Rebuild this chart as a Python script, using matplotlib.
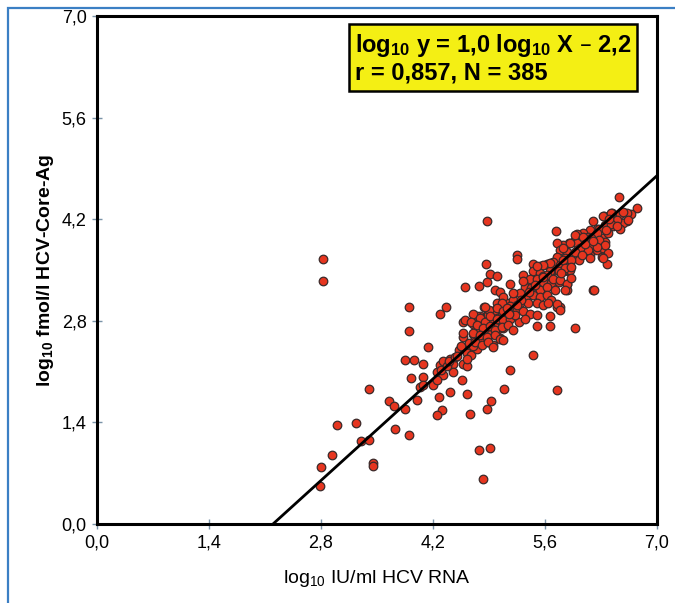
import numpy as np
import matplotlib
matplotlib.use('Agg')
from matplotlib import pyplot as plt
from matplotlib.patches import Rectangle

plt.rcParams['font.family'] = ['Liberation Sans Narrow', 'Liberation Sans', 'DejaVu Sans']
plt.rcParams['mathtext.default'] = 'regular'

# regression shown in the box
slope = 1.0
intercept = -2.2

# points: (log10 IU/ml HCV RNA, log10 fmol/l core Ag)
pts_low = [
    (2.82, 3.65), (2.82, 3.35), (3.90, 2.99), (3.90, 2.66), (3.85, 2.26), (3.96, 2.26),
    (4.08, 2.20), (4.14, 2.44), (3.93, 2.01), (4.07, 2.03), (4.04, 1.89), (4.08, 1.91),
    (4.00, 1.71), (3.40, 1.86), (3.65, 1.70), (3.71, 1.62), (3.85, 1.59), (3.73, 1.31),
    (3.90, 1.23), (3.00, 1.37), (3.24, 1.39), (3.30, 1.14), (3.40, 1.16), (2.94, 0.95),
    (2.80, 0.78), (2.79, 0.53), (3.45, 0.84), (3.45, 0.80),
]
pts_mid = [
    (4.29, 2.89), (4.36, 2.99), (4.25, 2.10), (4.33, 2.05), (4.29, 2.19), (4.20, 1.92),
    (4.25, 1.98), (4.28, 1.75), (4.31, 1.57), (4.25, 1.50), (4.41, 2.28), (4.33, 2.24),
    (4.45, 2.21), (4.45, 2.10), (4.41, 1.82), (4.30, 2.12), (4.38, 2.18), (4.40, 2.25),
    (4.48, 2.30), (4.52, 2.40), (4.58, 2.42), (4.66, 2.41), (4.62, 2.35), (4.68, 2.33),
    (4.75, 2.41), (4.58, 2.21), (4.62, 2.18), (4.56, 1.98), (4.63, 1.79), (4.66, 1.52),
    (4.58, 2.57), (4.70, 2.62), (4.71, 2.50), (4.58, 2.79), (4.70, 2.76), (4.79, 2.86),
    (4.78, 2.72), (4.60, 3.26), (4.78, 3.28), (4.78, 1.02), (4.83, 0.62), (4.75, 2.86),
    (4.55, 2.45), (4.65, 2.50), (4.72, 2.55), (4.76, 2.60), (4.70, 2.45), (4.62, 2.28),
    (4.50, 2.32), (4.74, 2.68), (4.80, 2.55), (4.60, 2.81), (4.58, 2.63),
]
pts_band = [
    (4.81, 2.54), (4.89, 2.51), (4.95, 2.47), (4.87, 2.58), (5.04, 2.56), (4.91, 2.86),
    (5.00, 2.88), (5.08, 2.86), (5.14, 2.90), (4.95, 2.79), (5.04, 2.77), (5.12, 2.77),
    (4.89, 2.70), (5.00, 2.67), (5.08, 2.70), (4.87, 2.88), (4.84, 2.99), (4.83, 2.83),
    (4.89, 2.88), (4.86, 3.58), (4.91, 3.44), (4.88, 3.34), (4.87, 4.17), (5.00, 3.42),
    (4.88, 1.58), (4.92, 1.70), (5.09, 1.86), (4.91, 1.05), (4.85, 2.65), (4.93, 2.62),
    (4.98, 2.72), (5.02, 2.82), (5.06, 2.92), (4.97, 2.95), (5.05, 3.00), (5.10, 2.95),
    (5.12, 3.05), (4.82, 2.75), (4.90, 2.95), (5.00, 3.05), (5.16, 2.12), (5.45, 2.33),
    (5.75, 1.84), (5.50, 2.73), (5.66, 2.73), (5.66, 2.87), (5.75, 2.99), (5.97, 2.70),
    (5.79, 2.99), (5.87, 3.22), (6.20, 3.22),
    (5.25, 3.71), (5.25, 3.65), (5.16, 3.31), (5.33, 3.43), (5.45, 3.58), (5.54, 3.55),
    (5.63, 3.58), (5.70, 3.55), (5.78, 3.60), (5.85, 3.65), (5.45, 3.49), (5.54, 3.46),
    (5.66, 3.45), (5.75, 3.50), (5.83, 3.52), (5.89, 3.48), (5.41, 3.37), (5.50, 3.38),
    (5.58, 3.34), (5.68, 3.32), (5.78, 3.33), (5.87, 3.31), (5.35, 3.27), (5.43, 3.25),
    (5.54, 3.23), (5.62, 3.27), (5.72, 3.22), (4.98, 3.23), (5.04, 3.19), (5.08, 3.13),
    (5.29, 3.18), (5.37, 3.13), (5.45, 3.15), (5.54, 3.13), (5.62, 3.15), (5.68, 3.09),
    (5.20, 3.09), (5.29, 3.04), (5.39, 3.04), (5.50, 3.04), (5.58, 3.02), (5.64, 3.04),
    (5.75, 3.03), (5.79, 2.95), (5.16, 3.00), (5.25, 2.95), (5.33, 2.93), (5.41, 2.90),
    (5.50, 2.88), (5.06, 3.04), (5.00, 2.97), (5.08, 2.93), (4.85, 2.99), (4.70, 2.90),
    (4.79, 2.84), (4.85, 2.78), (4.91, 2.86), (5.00, 2.83), (5.08, 2.81), (5.16, 2.83),
    (5.27, 2.79), (5.35, 2.83), (4.68, 2.79), (4.75, 2.74), (4.83, 2.70), (4.91, 2.73),
    (4.98, 2.68), (5.06, 2.71), (5.14, 2.74), (5.20, 2.67), (4.70, 2.63), (4.79, 2.60),
    (4.87, 2.58), (4.98, 2.60), (5.04, 2.55), (4.73, 2.51), (4.81, 2.46), (4.89, 2.51),
    (4.95, 2.44), (5.08, 2.53), (5.22, 2.88), (5.30, 3.08), (5.40, 3.20), (5.48, 3.30),
    (5.58, 3.42), (5.12, 2.98), (5.20, 3.18), (5.32, 3.35), (5.15, 2.90), (5.25, 3.02),
]
pts_high = [
    (6.53, 4.50), (6.75, 4.36), (6.68, 4.27), (6.63, 4.18), (6.57, 4.15), (6.44, 4.29),
    (6.54, 4.27), (6.34, 4.24), (6.42, 4.17), (6.50, 4.19), (6.20, 4.18), (6.35, 4.12),
    (6.45, 4.10), (6.54, 4.06), (6.25, 4.06), (6.16, 4.05), (6.08, 4.01), (6.00, 3.99),
    (5.98, 3.91), (6.06, 3.91), (6.14, 3.96), (6.23, 3.96), (6.31, 3.94), (6.39, 4.01),
    (6.35, 3.89), (6.27, 3.87), (6.16, 3.84), (6.08, 3.82), (6.00, 3.87), (5.90, 3.87),
    (5.83, 3.84), (5.75, 3.87), (5.74, 4.04), (6.00, 3.78), (6.08, 3.73), (6.16, 3.71),
    (6.25, 3.78), (6.33, 3.80), (6.39, 3.73), (5.79, 3.78), (5.87, 3.75), (5.95, 3.71),
    (5.85, 3.66), (5.93, 3.64), (6.02, 3.64), (5.75, 3.68), (5.70, 3.61), (6.31, 3.68),
    (6.37, 3.58), (5.62, 3.57), (5.70, 3.52), (5.79, 3.57), (5.66, 3.48), (5.77, 3.48),
    (5.85, 3.50), (5.91, 3.50), (5.62, 3.43), (5.58, 3.41), (5.70, 3.38), (5.79, 3.36),
    (5.87, 3.31), (5.85, 3.22), (6.21, 3.23),
    (6.62, 4.28), (6.64, 4.19), (6.33, 4.24), (6.43, 4.28), (6.43, 4.14), (6.50, 4.10),
    (6.28, 4.07), (6.36, 4.05), (6.25, 4.01), (5.97, 3.98), (6.08, 3.96), (6.18, 3.94),
    (6.28, 3.91), (6.35, 3.84), (6.25, 3.82), (6.14, 3.78), (6.04, 3.80), (5.91, 3.87),
    (5.83, 3.80), (5.98, 3.75), (6.06, 3.71), (6.16, 3.66), (6.32, 3.67), (5.92, 3.64),
    (5.83, 3.64), (5.66, 3.59), (5.58, 3.57), (5.50, 3.55), (5.85, 3.53), (5.92, 3.54),
    (5.80, 3.46), (5.93, 3.39), (6.10, 3.86), (6.20, 3.90), (6.40, 4.20), (6.58, 4.30),
]

pts = pts_low + pts_mid + pts_band + pts_high
x = np.array([p[0] for p in pts])
y = np.array([p[1] for p in pts])

ticks = [0.0, 1.4, 2.8, 4.2, 5.6, 7.0]
tick_labels = ['0,0', '1,4', '2,8', '4,2', '5,6', '7,0']

fig = plt.figure(figsize=(6.75, 6.03), dpi=100)
ax = fig.add_axes([97 / 675, 79 / 603, 560 / 675, 508 / 603])

ax.scatter(x, y, s=38, c='#e6351f', edgecolors='#3a2a2a', linewidths=0.9, zorder=3)

# regression line
xl = np.array([-intercept / slope, 7.0])
ax.plot(xl, slope * xl + intercept, color='black', lw=2, zorder=4, solid_capstyle='butt')

ax.set_xlim(0, 7)
ax.set_ylim(0, 7)
ax.set_xticks(ticks)
ax.set_yticks(ticks)
ax.set_xticklabels(tick_labels, fontsize=13)
ax.set_yticklabels(tick_labels, fontsize=13)
ax.tick_params(direction='inout', length=7, width=1, color='#7a93a8', pad=4)
for sp in ax.spines.values():
    sp.set_linewidth(2.2)

ax.set_xlabel(r'log$_{10}$ IU/ml HCV RNA', fontsize=14, labelpad=12)
ax.set_ylabel(r'log$_{10}$ fmol/l HCV-Core-Ag', fontsize=14, fontweight='bold', labelpad=4)

ax.text(3.22, 6.78, 'log$_{10}$ y = 1,0 log$_{10}$ X – 2,2\nr = 0,857, N = 385',
        fontsize=17, fontweight='bold', va='top', ha='left', linespacing=1.15,
        bbox=dict(boxstyle='square,pad=0.25', fc='#f4ef14', ec='black', lw=1.8), zorder=5)

# blue frame around the figure
fig.patches.append(Rectangle((8 / 675, -0.05), 1.0, (603 - 8) / 603 + 0.05,
                             transform=fig.transFigure, fill=False,
                             ec='#3b7fc4', lw=1.6))

fig.savefig('out.png', dpi=100)
